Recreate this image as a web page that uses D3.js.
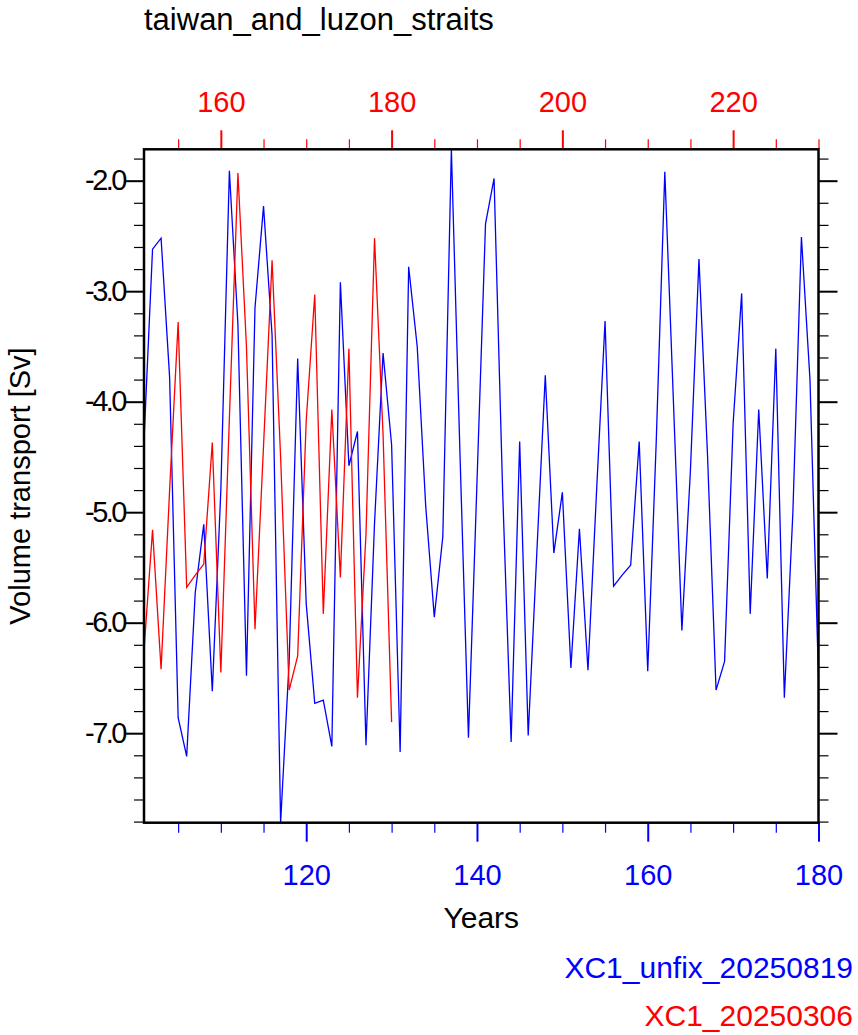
<!DOCTYPE html>
<html>
<head>
<meta charset="utf-8">
<script src="https://cdn.jsdelivr.net/npm/d3@7"></script>
<style>
  body { margin: 0; background: #fff; }
  text { font-family: "Liberation Sans", Arial, Helvetica, sans-serif; }
</style>
</head>
<body>
<script>
// data
var title = "taiwan_and_luzon_straits";
var blueName = "XC1_unfix_20250819";
var redName = "XC1_20250306";
var blueStart = 101;   // bottom axis years
var redStart = 151;    // top axis years

var blueValues = [
  -4.35, -2.62, -2.52, -3.78, -6.86, -7.21, -5.73, -5.11, -6.62, -4.80,
  -1.91, -3.30, -6.48, -3.15, -2.23, -3.40, -7.81, -6.35, -3.61, -5.83,
  -6.73, -6.70, -7.12, -2.92, -4.58, -4.27, -7.11, -5.10, -3.56, -4.39,
  -7.17, -2.78, -3.50, -4.95, -5.95, -5.22, -1.716, -4.45, -7.04, -4.73,
  -2.39, -1.98, -4.80, -7.08, -4.36, -7.02, -5.38, -3.76, -5.37, -4.82,
  -6.41, -5.15, -6.43, -4.82, -3.27, -5.67, -5.57, -5.48, -4.36, -6.44,
  -4.35, -1.92, -3.98, -6.07, -4.62, -2.71, -4.48, -6.61, -6.35, -4.20,
  -3.02, -5.92, -4.07, -5.60, -3.52, -6.68, -5.00, -2.51, -3.80, -6.50
];
var redValues = [
  -6.25, -5.16, -6.42, -4.80, -3.28, -5.68, -5.57, -5.47, -4.37, -6.45,
  -4.15, -1.93, -3.50, -6.06, -4.40, -2.72, -4.50, -6.61, -6.30, -4.17,
  -3.03, -5.92, -4.07, -5.59, -3.52, -6.68, -5.20, -2.52, -4.30, -6.90
];

var bottomTicks = [120, 140, 160, 180];
var bottomMinor = [105, 110, 115, 125, 130, 135, 145, 150, 155, 165, 170, 175];
var topTicks = [160, 180, 200, 220];
var topMinor = [155, 165, 170, 175, 185, 190, 195, 205, 210, 215, 225, 230];
var yTicks = [-2, -3, -4, -5, -6, -7];
var yMinor = [-1.8, -2.2, -2.4, -2.6, -2.8, -3.2, -3.4, -3.6, -3.8, -4.2, -4.4, -4.6, -4.8,
              -5.2, -5.4, -5.6, -5.8, -6.2, -6.4, -6.6, -6.8, -7.2, -7.4, -7.6, -7.8];

var W = 858, H = 1035;
var plot = {left: 144, right: 818.5, top: 149.3, bottom: 822.7};

var svg = d3.select("body").append("svg")
  .attr("width", W).attr("height", H);
svg.append("rect").attr("width", W).attr("height", H).attr("fill", "#fff");

var blue = blueValues.map(function (v, i) { return {x: blueStart + i, y: v}; });
var red = redValues.map(function (v, i) { return {x: redStart + i, y: v}; });

var x = d3.scaleLinear()
  .domain([blueStart, blueStart + blueValues.length - 1])
  .range([plot.left, plot.right]);
var xTop = d3.scaleLinear()
  .domain([redStart, redStart + blueValues.length - 1])
  .range([plot.left, plot.right]);
var ext = d3.extent(blueValues.concat(redValues));
var y = d3.scaleLinear().domain(ext).range([plot.bottom, plot.top]);

function styleAxis(g, color, width) {
  g.select(".domain").remove();
  g.selectAll(".tick line").attr("stroke", color).attr("stroke-width", width);
  g.selectAll(".tick text").attr("fill", color).style("font-size", "29px");
}

// bottom axis (blue)
svg.append("g")
  .attr("transform", "translate(0," + plot.bottom + ")")
  .call(d3.axisBottom(x).tickValues(bottomMinor).tickSize(10).tickFormat(""))
  .call(styleAxis, "#0000ff", 1.2);
svg.append("g")
  .attr("transform", "translate(0," + plot.bottom + ")")
  .call(d3.axisBottom(x).tickValues(bottomTicks).tickSize(19).tickPadding(23).tickFormat(d3.format("d")))
  .call(styleAxis, "#0000ff", 2);

// top axis (red)
svg.append("g")
  .attr("transform", "translate(0," + plot.top + ")")
  .call(d3.axisTop(xTop).tickValues(topMinor).tickSize(10).tickFormat(""))
  .call(styleAxis, "#ff0000", 1.2);
svg.append("g")
  .attr("transform", "translate(0," + plot.top + ")")
  .call(d3.axisTop(xTop).tickValues(topTicks).tickSize(19).tickPadding(18).tickFormat(d3.format("d")))
  .call(styleAxis, "#ff0000", 2);

// left and right y axes
svg.append("g")
  .attr("transform", "translate(" + plot.left + ",0)")
  .call(d3.axisLeft(y).tickValues(yMinor).tickSize(10).tickFormat(""))
  .call(styleAxis, "#000", 1.2);
svg.append("g")
  .attr("transform", "translate(" + plot.left + ",0)")
  .call(d3.axisLeft(y).tickValues(yTicks).tickSize(19).tickPadding(0)
    .tickFormat(function (d) { return d.toFixed(1); }))
  .call(styleAxis, "#000", 2)
  .selectAll(".tick text").style("letter-spacing", "-2.5px");
svg.append("g")
  .attr("transform", "translate(" + plot.right + ",0)")
  .call(d3.axisRight(y).tickValues(yMinor).tickSize(10).tickFormat(""))
  .call(styleAxis, "#000", 1.2);
svg.append("g")
  .attr("transform", "translate(" + plot.right + ",0)")
  .call(d3.axisRight(y).tickValues(yTicks).tickSize(19).tickFormat(""))
  .call(styleAxis, "#000", 2);

// series
var line = d3.line().x(function (d) { return x(d.x); }).y(function (d) { return y(d.y); });
var lineTop = d3.line().x(function (d) { return xTop(d.x); }).y(function (d) { return y(d.y); });

svg.append("path").datum(blue)
  .attr("d", line).attr("fill", "none")
  .attr("stroke", "#0000ff").attr("stroke-width", 1.3).attr("stroke-linejoin", "miter");
svg.append("path").datum(red)
  .attr("d", lineTop).attr("fill", "none")
  .attr("stroke", "#ff0000").attr("stroke-width", 1.3).attr("stroke-linejoin", "miter");

// frame
svg.append("rect")
  .attr("x", plot.left).attr("y", plot.top)
  .attr("width", plot.right - plot.left).attr("height", plot.bottom - plot.top)
  .attr("fill", "none").attr("stroke", "#000").attr("stroke-width", 2.5);

// texts
svg.append("text").attr("x", plot.left).attr("y", 30)
  .style("font-size", "31px").attr("fill", "#000").text(title);

svg.append("text")
  .attr("transform", "translate(30," + (plot.top + plot.bottom) / 2 + ") rotate(-90)")
  .attr("text-anchor", "middle").style("font-size", "29px").attr("fill", "#000")
  .text("Volume transport [Sv]");

svg.append("text").attr("x", (plot.left + plot.right) / 2).attr("y", 928)
  .attr("text-anchor", "middle").style("font-size", "30px").attr("fill", "#000")
  .text("Years");

svg.append("text").attr("x", 853).attr("y", 978)
  .attr("text-anchor", "end").style("font-size", "30px").attr("fill", "#0000ff")
  .text(blueName);
svg.append("text").attr("x", 853).attr("y", 1026)
  .attr("text-anchor", "end").style("font-size", "30px").attr("fill", "#ff0000")
  .text(redName);
</script>
</body>
</html>
